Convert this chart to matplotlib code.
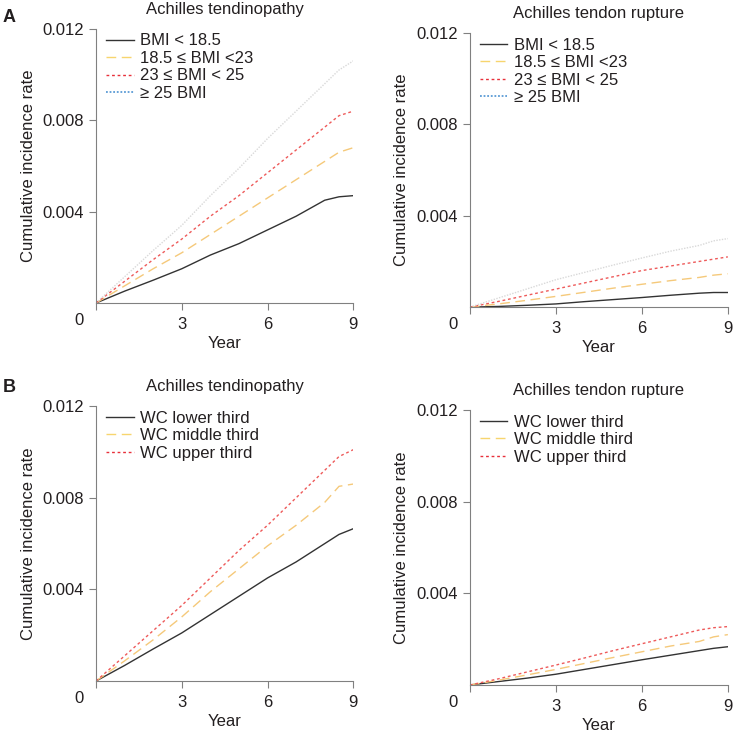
import matplotlib
matplotlib.use('Agg')
import matplotlib.pyplot as plt
from matplotlib.lines import Line2D
import matplotlib.transforms as mtransforms

plt.rcParams['font.family'] = ['Liberation Sans', 'DejaVu Sans']

years = [0, 1, 2, 3, 4, 5, 6, 7, 8, 8.5, 9]

# A: BMI groups
bmi_labels = ['BMI < 18.5', '18.5 \u2264 BMI <23', '23 \u2264 BMI < 25', '\u2265 25 BMI']
a_tendinopathy = [
    [0, 0.00052, 0.0010, 0.0015, 0.0021, 0.0026, 0.0032, 0.0038, 0.0045, 0.00465, 0.0047],
    [0, 0.00075, 0.0015, 0.0022, 0.0030, 0.0038, 0.0046, 0.0054, 0.0062, 0.0066, 0.0068],
    [0, 0.00095, 0.0019, 0.0028, 0.0038, 0.0047, 0.0057, 0.0067, 0.0077, 0.0082, 0.0084],
    [0, 0.00115, 0.0023, 0.0034, 0.0047, 0.0059, 0.0072, 0.0084, 0.0096, 0.0102, 0.0106],
]
a_rupture = [
    [0, 0.00003, 0.00008, 0.00014, 0.00024, 0.00033, 0.00042, 0.00052, 0.00061, 0.00064, 0.00064],
    [0, 0.00014, 0.0003, 0.00047, 0.00065, 0.00083, 0.0010, 0.00116, 0.0013, 0.0014, 0.00146],
    [0, 0.00025, 0.00052, 0.00079, 0.00106, 0.00133, 0.0016, 0.0018, 0.0020, 0.0021, 0.0022],
    [0, 0.0004, 0.0008, 0.0012, 0.00152, 0.00184, 0.00215, 0.00245, 0.0027, 0.0029, 0.0030],
]

# B: waist circumference groups
wc_labels = ['WC lower third', 'WC middle third', 'WC upper third']
b_tendinopathy = [
    [0, 0.00068, 0.0014, 0.0021, 0.0029, 0.0037, 0.0045, 0.0052, 0.0060, 0.0064, 0.00665],
    [0, 0.00088, 0.0018, 0.0028, 0.0039, 0.0049, 0.0059, 0.0068, 0.0078, 0.0085, 0.0086],
    [0, 0.0011, 0.0022, 0.0033, 0.0045, 0.0057, 0.0068, 0.0080, 0.0092, 0.0098, 0.0101],
]
b_rupture = [
    [0, 0.00015, 0.0003, 0.00047, 0.00068, 0.00089, 0.0011, 0.0013, 0.0015, 0.0016, 0.00167],
    [0, 0.00021, 0.00044, 0.00068, 0.00094, 0.0012, 0.00145, 0.0017, 0.0019, 0.0021, 0.0022],
    [0, 0.00027, 0.00057, 0.00087, 0.00118, 0.0015, 0.0018, 0.0021, 0.0024, 0.0025, 0.00255],
]

yticks = [0.004, 0.008, 0.012]
ytick_labels = ['0.004', '0.008', '0.012']
xticks = [0, 3, 6, 9]

# line styles: (plot colour, legend colour, linestyle)
styles = [
    ('#333333', '#333333', '-'),
    ('#f5c97a', '#f7d56e', (0, (7, 4))),
    ('#ee5a5a', '#e8303a', (0, (2, 2))),
    ('#d9d9d9', '#5b9bd5', (0, (1, 1))),
]

txt = '#231f20'
spine_c = '#808080'
fs = 12

fig = plt.figure(figsize=(7.33, 7.33), dpi=100)

panels = [
    ([0.131, 0.5866, 0.351, 0.374], 'Achilles tendinopathy', a_tendinopathy, bmi_labels),
    ([0.641, 0.581, 0.352, 0.374], 'Achilles tendon rupture', a_rupture, bmi_labels),
    ([0.131, 0.0709, 0.351, 0.375], 'Achilles tendinopathy', b_tendinopathy, wc_labels),
    ([0.641, 0.0655, 0.352, 0.375], 'Achilles tendon rupture', b_rupture, wc_labels),
]

for rect, title, series, labels in panels:
    ax = fig.add_axes(rect)
    for vals, (c, lc, ls) in zip(series, styles):
        ax.plot(years, vals, color=c, linestyle=ls, linewidth=1.0)
    handles = [Line2D([], [], color=lc, linestyle=ls, linewidth=1.3 if i == 3 else 1.0)
               for i, (c, lc, ls) in enumerate(styles[:len(series)])]
    ax.legend(handles, labels, loc='upper left', frameon=False, fontsize=fs,
              handlelength=1.65, handletextpad=0.4, labelspacing=0.15,
              borderaxespad=0.2, bbox_to_anchor=(0.0, 1.02), labelcolor=txt)
    ax.set_xlim(0, 9)
    ax.set_ylim(0, 0.012)
    ax.set_yticks(yticks)
    ax.set_yticklabels(ytick_labels)
    ax.set_xticks(xticks)
    ax.set_xticklabels(['', '3', '6', '9'])
    ax.tick_params(axis='both', labelsize=fs, colors=spine_c, labelcolor=txt,
                   length=5, width=0.8, direction='out')
    ax.tick_params(axis='x', pad=5)
    for s in ['top', 'right']:
        ax.spines[s].set_visible(False)
    for s in ['left', 'bottom']:
        ax.spines[s].set_color(spine_c)
        ax.spines[s].set_linewidth(0.8)
    off = mtransforms.offset_copy(ax.transData, fig=fig, x=-17, y=-10, units='dots')
    ax.text(0, 0, '0', transform=off, ha='center', va='top', fontsize=fs, color=txt)
    ax.set_title(title, fontsize=fs, color=txt, pad=11)
    ax.set_xlabel('Year', fontsize=fs, color=txt, labelpad=3)
    ax.set_ylabel('Cumulative incidence rate', fontsize=fs, color=txt, labelpad=5)

fig.text(0.004, 0.988, 'A', fontsize=13, fontweight='bold', color=txt, va='top')
fig.text(0.004, 0.483, 'B', fontsize=13, fontweight='bold', color=txt, va='top')

fig.savefig('out.png', dpi=100)
